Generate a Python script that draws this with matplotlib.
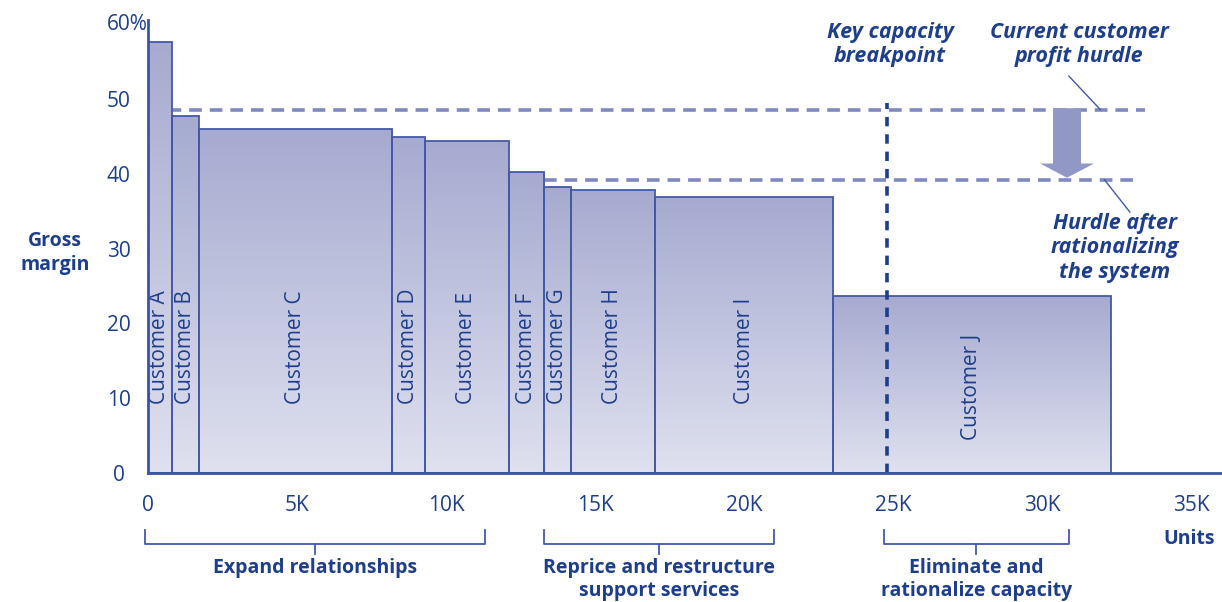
import numpy as np
import matplotlib
matplotlib.use("Agg")
import matplotlib.pyplot as plt
import matplotlib.patches as mpatches
from matplotlib.colors import LinearSegmentedColormap

# ==================== DATA ====================
customers = ["Customer A", "Customer B", "Customer C", "Customer D", "Customer E",
             "Customer F", "Customer G", "Customer H", "Customer I", "Customer J"]
units_k = [0.8, 0.9, 6.5, 1.1, 2.8, 1.2, 0.9, 2.8, 6.0, 9.3]        # thousands of units
margin = [57.6, 47.8, 46.0, 45.0, 44.4, 40.3, 38.3, 37.9, 36.9, 23.7]  # gross margin %

hurdle_now = 48.5
hurdle_after = 39.2
breakpoint_k = 24.8

xticks = [0, 5, 10, 15, 20, 25, 30, 35]
xtick_labels = ["0", "5K", "10K", "15K", "20K", "25K", "30K", "35K"]
yticks = [0, 10, 20, 30, 40, 50]
ytick_labels = ["0", "10", "20", "30", "40", "50"]

groups = ["Expand relationships", "Reprice and restructure\nsupport services",
          "Eliminate and\nrationalize capacity"]
group_spans = [(-0.1, 11.3), (13.3, 21.0), (24.7, 30.9)]

# ==================== STYLE ====================
TXT = "#1d3e8c"
EDGE = "#4459a6"
DASH = "#7f88c0"
ARROW = "#9298c6"
plt.rcParams["font.family"] = ["Open Sans", "DejaVu Sans"]
plt.rcParams["font.size"] = 15

fig = plt.figure(figsize=(12.22, 6.02), dpi=100)
ax = fig.add_axes([148 / 1222, 129 / 602, 1074 / 1222, 453 / 602])
XMAX, YMAX = 36.04, 60.6

cmap = LinearSegmentedColormap.from_list("bar", ["#dfe1ef", "#a6aad0"])
ramp = np.linspace(0, 1, 256).reshape(-1, 1)

# hurdle lines behind the bars
ax.plot([0, 33.45], [hurdle_now, hurdle_now], color=DASH, lw=2.6,
        dashes=(3.5, 2.2), zorder=1)
ax.plot([13.3, 33.3], [hurdle_after, hurdle_after], color=DASH, lw=2.6,
        dashes=(3.5, 2.2), zorder=1)

left = np.concatenate([[0], np.cumsum(units_k)[:-1]])
label_base = [9.2] * 9 + [4.4]
for name, x0, w, h, lb in zip(customers, left, units_k, margin, label_base):
    rect = mpatches.Rectangle((x0, 0), w, h, facecolor="none", edgecolor=EDGE,
                              lw=1.3, zorder=3)
    ax.add_patch(rect)
    im = ax.imshow(ramp, extent=(x0, x0 + w, 0, h), origin="lower", aspect="auto",
                   cmap=cmap, zorder=2, interpolation="bilinear")
    im.set_clip_path(rect)
    ax.text(x0 + w / 2, lb, name, rotation=90, ha="center", va="bottom",
            color=TXT, fontsize=15, zorder=4)

# key capacity breakpoint
ax.plot([breakpoint_k, breakpoint_k], [0, 49.5], color=TXT, lw=2.6,
        dashes=(2.6, 2.2), zorder=5)

# arrow from current hurdle to new hurdle
ax.add_patch(mpatches.FancyArrow(30.84, hurdle_now + 0.3, 0, hurdle_after - hurdle_now,
                                 width=0.94, head_width=1.81, head_length=1.9,
                                 length_includes_head=True, color=ARROW, lw=0, zorder=5))

# leader lines
ax.plot([30.9, 31.96], [53.1, 48.6], color=EDGE, lw=1, clip_on=False)
ax.plot([32.1, 32.95], [39.2, 34.9], color=EDGE, lw=1, clip_on=False)

ann = dict(color=TXT, fontsize=15.5, fontweight="bold", fontstyle="italic",
           ha="center", va="center", linespacing=1.22, clip_on=False)
ax.text(24.9, 57.3, "Key capacity\nbreakpoint", **ann)
ax.text(31.24, 57.3, "Current customer\nprofit hurdle", **ann)
ax.text(32.45, 30.1, "Hurdle after\nrationalizing\nthe system", **ann)

# axes
ax.set_xlim(0, XMAX)
ax.set_ylim(0, YMAX)
for s in ["top", "right"]:
    ax.spines[s].set_visible(False)
for s in ["left", "bottom"]:
    ax.spines[s].set_color("#3a55a5")
    ax.spines[s].set_linewidth(2)
    ax.spines[s].set_zorder(6)

ax.set_xticks(xticks, labels=xtick_labels)
ax.set_yticks(yticks, labels=ytick_labels)
ax.tick_params(axis="x", length=0, pad=16, colors=TXT, labelsize=15)
ax.tick_params(axis="y", length=0, pad=21, colors=TXT, labelsize=15)
for lbl in ax.get_yticklabels():
    lbl.set_horizontalalignment("center")
ax.annotate("60%", xy=(0, 60), xycoords=("axes fraction", "data"),
            xytext=(-41, 0), textcoords="offset pixels", ha="left", va="center",
            color=TXT, fontsize=15)

ax.text(-3.12, 29.45, "Gross\nmargin", color=TXT, fontsize=14, fontweight="bold",
        ha="center", va="center", linespacing=1.25, clip_on=False)
ax.text(34.93, -8.8, "Units", color=TXT, fontsize=14, fontweight="bold",
        ha="center", va="center", clip_on=False)

# brackets under the axis
for label, (a, b) in zip(groups, group_spans):
    mid = (a + b) / 2
    ax.plot([a, a, b, b], [-7.6, -9.5, -9.5, -7.6], color=EDGE, lw=1.3, clip_on=False)
    ax.plot([mid, mid], [-9.5, -10.8], color=EDGE, lw=1.3, clip_on=False)
    ax.text(mid, -11.4, label, color=TXT, fontsize=14, fontweight="bold",
            ha="center", va="top", linespacing=1.2, clip_on=False)

fig.savefig("out.png", dpi=100)
